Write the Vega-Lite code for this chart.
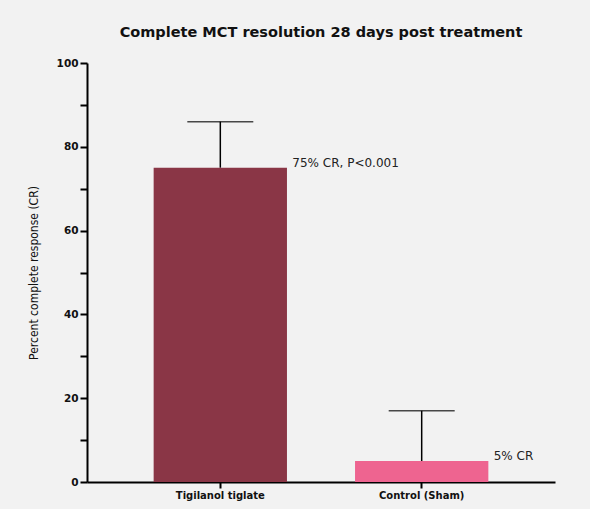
{
  "$schema": "https://vega.github.io/schema/vega-lite/v6.json",
  "width": 468,
  "height": 419,
  "autosize": {"type": "none"},
  "padding": {"left": 87, "top": 63, "right": 35, "bottom": 27},
  "background": "#f2f2f2",
  "title": {
    "text": "Complete MCT resolution 28 days post treatment",
    "font": "DejaVu Sans",
    "fontSize": 14.5,
    "fontWeight": "bold",
    "color": "#111111",
    "anchor": "middle",
    "offset": 18
  },
  "config": {"view": {"stroke": null}},
  "data": {
    "values": [
      {"group": "Tigilanol tiglate", "value": 75, "upper": 86, "label": "75% CR, P<0.001"},
      {"group": "Control (Sham)", "value": 5, "upper": 17, "label": "5% CR"}
    ]
  },
  "encoding": {
    "x": {
      "field": "group",
      "type": "nominal",
      "sort": null,
      "scale": {"paddingInner": 0.338, "paddingOuter": 0.331},
      "axis": {
        "title": null,
        "labelAngle": 0,
        "labelFont": "DejaVu Sans",
        "labelFontWeight": "bold",
        "labelFontSize": 10,
        "labelColor": "#111111",
        "domainColor": "#000000",
        "domainWidth": 2,
        "tickColor": "#000000",
        "tickWidth": 2,
        "tickSize": 6,
        "labelPadding": 2
      }
    }
  },
  "layer": [
    {
      "mark": {"type": "rule", "color": "#000000", "strokeWidth": 1.5},
      "encoding": {
        "y": {"field": "value", "type": "quantitative"},
        "y2": {"field": "upper"}
      }
    },
    {
      "mark": {"type": "tick", "color": "#000000", "size": 66, "thickness": 1.5, "orient": "horizontal"},
      "encoding": {
        "y": {"field": "upper", "type": "quantitative"}
      }
    },
    {
      "mark": {"type": "bar"},
      "encoding": {
        "y": {
          "field": "value",
          "type": "quantitative",
          "scale": {"domain": [0, 100]},
          "axis": {
            "title": "Percent complete response (CR)",
            "titleFont": "DejaVu Sans Condensed",
            "titleFontWeight": "normal",
            "titleFontSize": 12,
            "titleColor": "#111111",
            "titlePadding": 16,
            "values": [0, 10, 20, 30, 40, 50, 60, 70, 80, 90, 100],
            "labelExpr": "datum.value % 20 == 0 ? datum.label : ''",
            "labelFont": "DejaVu Sans",
            "labelFontWeight": "bold",
            "labelFontSize": 10.5,
            "labelColor": "#111111",
            "grid": false,
            "domainColor": "#000000",
            "domainWidth": 2,
            "tickColor": "#000000",
            "tickWidth": 2,
            "tickSize": 7,
            "labelPadding": 2
          }
        },
        "color": {
          "field": "group",
          "type": "nominal",
          "scale": {"domain": ["Tigilanol tiglate", "Control (Sham)"], "range": ["#8A3646", "#EE6490"]},
          "legend": null
        }
      }
    },
    {
      "mark": {"type": "text", "align": "left", "baseline": "middle", "dx": 72, "dy": -5, "font": "DejaVu Sans", "fontSize": 12, "color": "#222222"},
      "encoding": {
        "y": {"field": "value", "type": "quantitative"},
        "text": {"field": "label"}
      }
    }
  ]
}
